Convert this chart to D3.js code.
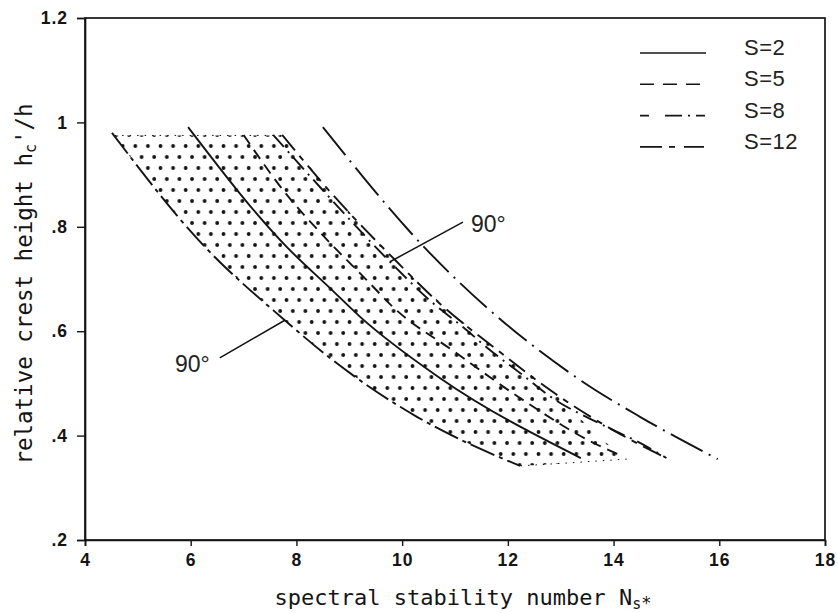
<!DOCTYPE html>
<html>
<head>
<meta charset="utf-8">
<script src="https://cdn.jsdelivr.net/npm/d3@7"></script>
<style>
  html, body { margin: 0; padding: 0; background: #fff; }
  svg { display: block; }
</style>
</head>
<body>
<script>
// ---------------- data ----------------
const xTicks = [4, 6, 8, 10, 12, 14, 16, 18];
const xTickLabels = ["4", "6", "8", "10", "12", "14", "16", "18"];
const yTicks = [0.2, 0.4, 0.6, 0.8, 1.0, 1.2];
const yTickLabels = [".2", ".4", ".6", ".8", "1", "1.2"];

const legendLabels = ["S=2", "S=5", "S=8", "S=12"];

// lower 90° curve (left boundary of the dotted band)
const lower90X = [4.51, 6.18, 7.78, 8.63, 10.28, 10.81, 12.23];
const lower90Y = [0.980, 0.771, 0.621, 0.549, 0.436, 0.407, 0.342];
// S=2 (solid)
const s2X = [5.95, 7.82, 8.63, 9.20, 10.72, 13.38];
const s2Y = [0.991, 0.761, 0.683, 0.628, 0.510, 0.357];
// S=5 (dashed)
const s5X = [7.00, 7.75, 8.58, 9.33, 9.83, 11.00, 12.23, 13.70, 14.12];
const s5Y = [0.976, 0.870, 0.775, 0.698, 0.646, 0.560, 0.472, 0.382, 0.363];
// S=8 (dash-dot)
const s8X = [7.56, 8.50, 9.77, 10.58, 11.15, 11.66, 12.23, 12.80, 13.80, 14.50, 15.00];
const s8Y = [0.976, 0.870, 0.733, 0.654, 0.608, 0.564, 0.520, 0.475, 0.420, 0.386, 0.357];
// S=12 (long-short dash)
const s12X = [7.73, 8.70, 9.90, 10.70, 11.80, 12.90, 14.00, 15.00];
const s12Y = [0.976, 0.860, 0.733, 0.654, 0.564, 0.480, 0.410, 0.357];
// upper 90° curve
const upper90X = [8.50, 10.38, 13.36, 14.50, 15.97];
const upper90Y = [0.991, 0.765, 0.507, 0.436, 0.355];

// dotted band: right and bottom edge (left edge = lower 90° curve)
const bandRightX = [7.75, 9.90, 11.80, 12.90, 13.70, 14.25];
const bandRightY = [0.975, 0.733, 0.564, 0.480, 0.400, 0.355];
const bandBottomX = [14.25, 13.20, 12.23];
const bandBottomY = [0.355, 0.348, 0.342];
const bandTopY = 0.975;

// annotations "90°"
const annoText = ["90°", "90°"];
const annoFromX = [9.77, 7.78], annoFromY = [0.733, 0.621];
const annoToX = [11.15, 6.55], annoToY = [0.809, 0.549];

// ---------------- chart ----------------
const W = 838, H = 613;
const ink = "#141414";
const svg = d3.select("body").append("svg").attr("width", W).attr("height", H)
  .style("background", "#fff");

const x = d3.scaleLinear().domain([4, 18]).range([85, 825]);
const y = d3.scaleLinear().domain([0.2, 1.2]).range([540, 18]);

const zip = (xs, ys) => xs.map((v, i) => [v, ys[i]]);
const line = d3.line().x(d => x(d[0])).y(d => y(d[1])).curve(d3.curveMonotoneX);
const lineRaw = d3.line().x(d => x(d[0])).y(d => y(d[1]));

// dot pattern
const defs = svg.append("defs");
const pat = defs.append("pattern").attr("id", "dots")
  .attr("patternUnits", "userSpaceOnUse").attr("width", 12.6).attr("height", 22);
pat.append("circle").attr("cx", 3).attr("cy", 3).attr("r", 1.9).attr("fill", ink);
pat.append("circle").attr("cx", 9.3).attr("cy", 14).attr("r", 1.9).attr("fill", ink);

// band polygon built from the curves
const leftPts = zip(lower90X, lower90Y);
const rightPts = zip(bandRightX, bandRightY);
const bottomPts = zip(bandBottomX, bandBottomY);
const bandPath = (() => {
  const p = d3.path();
  p.moveTo(x(lower90X[0] + 0.05), y(bandTopY));
  p.lineTo(x(bandRightX[0]), y(bandTopY));
  let s = p.toString();
  s += line(rightPts).replace(/^M/, "L");
  s += lineRaw(bottomPts).replace(/^M/, "L");
  s += line(leftPts.slice().reverse()).replace(/^M/, "L");
  return s + "Z";
})();
svg.append("path").attr("d", bandPath).attr("fill", "url(#dots)").attr("stroke", "none");
svg.append("line")
  .attr("x1", x(lower90X[0] + 0.05)).attr("x2", x(bandRightX[0]))
  .attr("y1", y(bandTopY)).attr("y2", y(bandTopY))
  .attr("stroke", ink).attr("stroke-width", 1).attr("stroke-dasharray", "1.5,6");
svg.append("path").attr("d", lineRaw(bottomPts)).attr("fill", "none")
  .attr("stroke", ink).attr("stroke-width", 1).attr("stroke-dasharray", "1.5,6");

// curves
const curves = [
  { xs: lower90X, ys: lower90Y, dash: "26,5,4,5" },
  { xs: s2X, ys: s2Y, dash: null },
  { xs: s5X, ys: s5Y, dash: "11,7" },
  { xs: s8X, ys: s8Y, dash: "16,6,2,6" },
  { xs: s12X, ys: s12Y, dash: "20,7,6,7" },
  { xs: upper90X, ys: upper90Y, dash: "36,7,2,7" }
];
svg.append("g").selectAll("path").data(curves).join("path")
  .attr("d", c => line(zip(c.xs, c.ys)))
  .attr("fill", "none").attr("stroke", ink).attr("stroke-width", 1.9)
  .attr("stroke-dasharray", c => c.dash);

// annotations
const annoG = svg.append("g");
annoText.forEach((t, i) => {
  annoG.append("line")
    .attr("x1", x(annoFromX[i])).attr("y1", y(annoFromY[i]))
    .attr("x2", x(annoToX[i])).attr("y2", y(annoToY[i]))
    .attr("stroke", ink).attr("stroke-width", 1.5);
  const right = annoToX[i] > annoFromX[i];
  annoG.append("text")
    .attr("x", x(annoToX[i]) + (right ? 8 : -10))
    .attr("y", y(annoToY[i]) + (right ? 10 : 14))
    .attr("text-anchor", right ? "start" : "end")
    .attr("font-family", "Liberation Sans, Arial, sans-serif")
    .attr("font-size", 23).attr("fill", "#222")
    .text(t);
});

// frame
svg.append("rect")
  .attr("x", x.range()[0]).attr("y", y.range()[1])
  .attr("width", x.range()[1] - x.range()[0]).attr("height", y.range()[0] - y.range()[1])
  .attr("fill", "none").attr("stroke", ink).attr("stroke-width", 1.7);

// axes
const xAxis = d3.axisBottom(x).tickValues(xTicks)
  .tickFormat((d, i) => xTickLabels[i]).tickSize(6).tickPadding(8);
const yAxis = d3.axisLeft(y).tickValues(yTicks)
  .tickFormat((d, i) => yTickLabels[i]).tickSize(8).tickPadding(9);

const gx = svg.append("g").attr("transform", `translate(0,${y.range()[0]})`).call(xAxis);
const gy = svg.append("g").attr("transform", `translate(${x.range()[0]},0)`).call(yAxis);
[gx, gy].forEach(g => {
  g.select(".domain").attr("stroke", ink).attr("stroke-width", 1.7);
  g.selectAll(".tick line").attr("stroke", ink).attr("stroke-width", 1.4);
  g.selectAll(".tick text")
    .attr("font-family", "Liberation Sans, Arial, sans-serif")
    .attr("font-weight", "bold").attr("font-size", 17.5)
    .attr("letter-spacing", "1px").attr("fill", ink);
});

// axis titles
const mono = "DejaVu Sans Mono, Liberation Mono, monospace";
const xt = svg.append("text")
  .attr("x", 463).attr("y", 605).attr("text-anchor", "middle")
  .attr("font-family", mono).attr("font-size", 22).attr("fill", ink);
xt.append("tspan").text("spectral stability number N");
xt.append("tspan").attr("baseline-shift", "-25%").attr("font-size", 15).text("s");
xt.append("tspan").attr("baseline-shift", "-25%").attr("font-size", 17).text("*");

const yt = svg.append("text")
  .attr("transform", "translate(32,284) rotate(-90)").attr("text-anchor", "middle")
  .attr("font-family", mono).attr("font-size", 22.5).attr("fill", ink);
yt.append("tspan").text("relative crest height h");
yt.append("tspan").attr("baseline-shift", "-25%").attr("font-size", 15).text("c");
yt.append("tspan").text("'/h");

// legend
const legendDash = [null, "14,9", "9,16,17,6,2,6,9", "22,7,6,9,20"];
const lg = svg.append("g");
legendLabels.forEach((lab, i) => {
  const yy = 53 + i * 31.3;
  lg.append("line").attr("x1", 640).attr("x2", 706).attr("y1", yy).attr("y2", yy)
    .attr("stroke", ink).attr("stroke-width", 1.6)
    .attr("stroke-dasharray", legendDash[i]);
  lg.append("text").attr("x", 744).attr("y", yy + 2)
    .attr("font-family", "Liberation Sans, Arial, sans-serif")
    .attr("font-size", 22).attr("letter-spacing", "0.5px").attr("fill", "#222")
    .text(lab);
});
</script>
</body>
</html>
